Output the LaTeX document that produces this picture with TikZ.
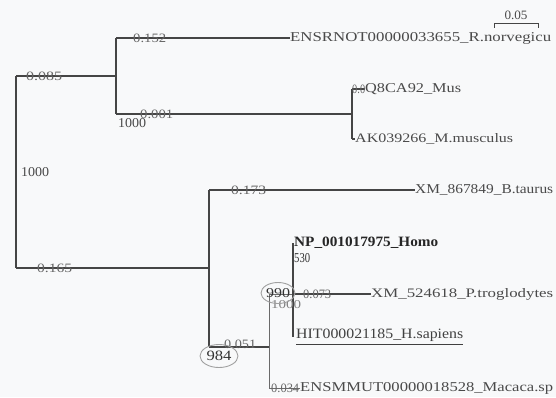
\documentclass[tikz,border=0pt]{standalone}
\usepackage{fontspec}
\setmainfont{Liberation Serif}
\usetikzlibrary{shapes.geometric}
\newcommand{\fitlab}[3]{\resizebox{#1pt}{#2pt}{#3}}
\definecolor{ln}{HTML}{454545}
\definecolor{tx}{HTML}{4A4A4A}
\definecolor{bg}{HTML}{F8F9FA}
\definecolor{ringc}{HTML}{A0A0A0}
\begin{document}
\begin{tikzpicture}[x=1pt,y=-1pt,
  branch/.style={draw=ln, line width=1.4pt},
  thinbranch/.style={draw=ln!80, line width=1pt},
  leaf/.style={anchor=west, inner sep=0pt, text=tx},
  blen/.style={anchor=west, inner sep=0pt, text=tx!85},
  boot/.style={anchor=west, inner sep=0pt, text=tx},
  ringnode/.style={ellipse, draw=ringc, line width=0.9pt, inner sep=0pt, text=black!80}]
\fill[bg] (0,0) rectangle (556,397);
\useasboundingbox (0,0) rectangle (556,397);

% tree junctions
\coordinate (rt) at (16,76);
\coordinate (rb) at (16,268);
\coordinate (A) at (116,76);
\coordinate (A1) at (116,38);
\coordinate (A2) at (116,114);
\coordinate (B) at (352,114);
\coordinate (B1) at (352,89);
\coordinate (B2) at (352,139);
\coordinate (C) at (209,268);
\coordinate (C1) at (209,190);
\coordinate (C2) at (209,347);
\coordinate (D) at (269,347);
\coordinate (D1) at (269,294);
\coordinate (D2) at (269,388);
\coordinate (E) at (293,294);
\coordinate (E1) at (293,243);
\coordinate (E2) at (293,337);

% leaves
\node[leaf] (lrat) at (290,38) {\fitlab{261}{9}{ENSRNOT00000033655\_R.norvegicu}};
\node[leaf] (lq) at (365,89) {\fitlab{96}{9}{Q8CA92\_Mus}};
\node[leaf] (lak) at (355,139) {\fitlab{158}{9}{AK039266\_M.musculus}};
\node[leaf] (lbt) at (415,190) {\fitlab{138}{9}{XM\_867849\_B.taurus}};
\node[leaf, text=black!85] (lnp) at (294,243) {\fitlab{144}{9.5}{\bfseries NP\_001017975\_Homo}};
\node[leaf] (lpt) at (371,294) {\fitlab{182}{9}{XM\_524618\_P.troglodytes}};
\node[leaf, text=black!75] (lhit) at (296,337) {\fitlab{167}{9.5}{\underline{HIT000021185\_H.sapiens}}};
\node[leaf] (lmac) at (300,388) {\fitlab{253}{9}{ENSMMUT00000018528\_Macaca.sp}};

% branches
\draw[branch] (rt) -- (rb);
\draw[branch] (rt) -- (A);
\draw[branch] (A1) -- (A2);
\draw[branch] (A1) -- (lrat.west);
\draw[branch] (A2) -- (B);
\draw[branch] (B1) -- (B2);
\draw[branch] (B1) -- (lq.west);
\draw[branch] (B2) -- (lak.west);
\draw[branch] (rb) -- (C);
\draw[branch] (C1) -- (C2);
\draw[branch] (C1) -- (lbt.west);
\draw[branch] (C2) -- (D);
\draw[thinbranch] (D1) -- (D2);
\draw[thinbranch] (D1) -- (E);
\draw[branch] (E1) -- (E2);
\draw[branch] (E) -- (lpt.west);
\draw[thinbranch] (D2) -- (lmac.west);

% branch lengths
\node[blen] (b1) at (133,38) {\fitlab{33}{8.5}{0.152}};
\node[blen] (b2) at (26,76) {\fitlab{36}{8.5}{0.085}};
\node[blen] (b3) at (140,114) {\fitlab{33}{8.5}{0.001}};
\node[blen] (b3b) at (352,89) {\fitlab{13}{8.5}{0.0}};
\node[blen] (b4) at (231,190) {\fitlab{35}{8.5}{0.173}};
\node[blen] (b5) at (37,268) {\fitlab{35}{8.5}{0.165}};
\node[blen] (b6) at (224,344) {\fitlab{32}{8.5}{0.051}};
\node[blen] (b7) at (303,294) {\fitlab{28}{8.5}{0.073}};
\node[blen] (b8) at (271,388) {\fitlab{28}{8.5}{0.034}};

% bootstrap values
\node[boot] (s1) at (118,123) {\fitlab{28}{9}{1000}};
\node[boot] (s2) at (21,172) {\fitlab{28}{9}{1000}};
\node[boot, text=black!80] (s3) at (294,258) {\fitlab{16}{9}{530}};
\node[boot, text=tx!70] (s4) at (271,305) {\fitlab{30}{8}{1000}};
\node[ringnode, minimum width=32pt, minimum height=21pt] (s5) at (278,293) {\fitlab{24}{9}{990}};
\node[ringnode, minimum width=38pt, minimum height=23pt] (s6) at (219,356) {\fitlab{25}{9.5}{984}};

% scale bar
\coordinate (sbl) at (494,23);
\coordinate (sbr) at (538,23);
\node[text=tx, inner sep=0pt] (sbt) at (516,15) {\fitlab{23}{8.5}{0.05}};
\draw[branch, line width=1pt] (sbl) -- (sbr);
\draw[branch, line width=1pt] (sbl) -- ++(0,5);
\draw[branch, line width=1pt] (sbr) -- ++(0,5);
\end{tikzpicture}
\end{document}
